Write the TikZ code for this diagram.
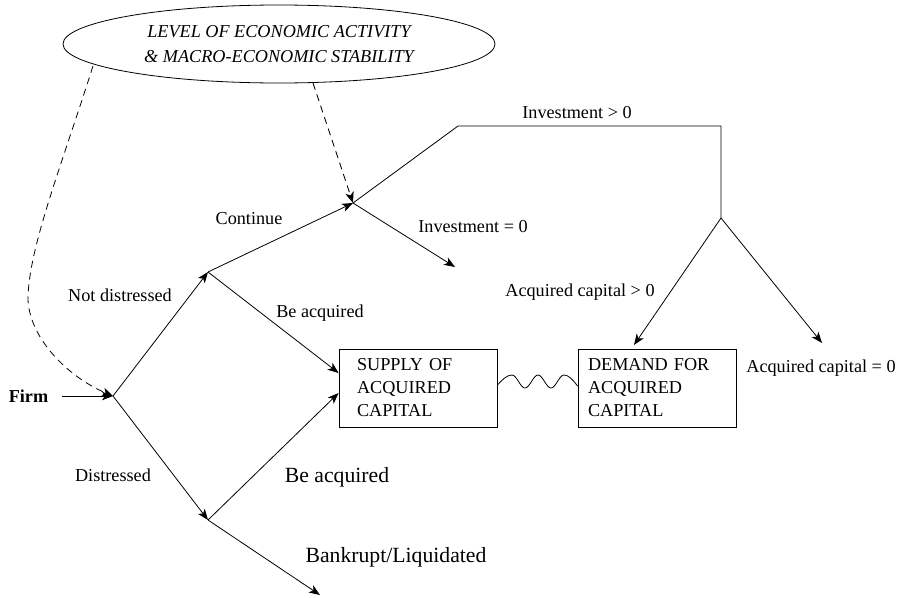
\documentclass[tikz,border=0pt]{standalone}
\usepackage{fontspec}
\setmainfont{Liberation Serif}
\usetikzlibrary{arrows.meta,shapes.geometric,calc}
\begin{document}
\begin{tikzpicture}[x=1pt,y=-1pt,
  every node/.style={font=\fontsize{18.2}{23}\selectfont, inner sep=0pt},
  line/.style={line width=0.8pt},
  tipa/.style={-{Stealth[length=11pt,width=8.5pt,inset=3pt]}},
  arr/.style={line, tipa},
  dashline/.style={line, dash pattern=on 7pt off 5pt},
  lab/.style={anchor=base},
  biglab/.style={anchor=base, font=\fontsize{21.7}{26}\selectfont},
  capbox/.style={draw, line, rectangle, align=left, minimum height=78pt, inner ysep=0pt}
]
\useasboundingbox (0,0) rectangle (899,597);

% ellipse
\node[draw, line, ellipse, minimum width=432pt, minimum height=78pt, align=center,
      font=\itshape\fontsize{18.2}{25}\selectfont] (ell) at (279,44)
  {LEVEL OF ECONOMIC ACTIVITY\\ \& MACRO-ECONOMIC STABILITY};

% junctions
\coordinate (F) at (113,396);
\coordinate (ND) at (208,272);
\coordinate (D) at (208,520);
\coordinate (C) at (353,203);
\coordinate (K) at (458,126);
\coordinate (Jt) at (721,126);
\coordinate (J) at (721,218);
\coordinate (I0) at (455,267);
\coordinate (BL) at (320,595);
\coordinate (A1) at (634,345);
\coordinate (A0) at (822,343);
\coordinate (e1) at (93,66);
\coordinate (e2) at (313,83);

% boxes
\node[capbox, inner xsep=18pt, text width=122pt] (sup) at (418,388)
  {SUPPLY OF\\ACQUIRED\\CAPITAL};
\node[capbox, inner xsep=10pt, text width=138pt] (dem) at (657,388)
  {DEMAND FOR\\ACQUIRED\\CAPITAL};

% firm
\node[font=\bfseries\fontsize{18.2}{23}\selectfont] (firm) at (28.5,396) {Firm};
\draw[arr] ($(firm.east)+(14,0)$) -- (F);

% tree
\draw[arr] (F) -- (ND);
\draw[arr] (F) -- (D);
\draw[arr] (ND) -- (C);
\draw[line] (C) -- (K) -- (Jt) -- (J);
\draw[arr] (C) -- (I0);
\draw[arr] (ND) -- ($(sup.west)+(0,-15)$);
\draw[arr] (D) -- ($(sup.west)+(0,5)$);
\draw[arr] (D) -- (BL);
\draw[arr] (J) -- (A1);
\draw[arr] (J) -- (A0);

% wavy link between supply and demand
\draw[line] ($(sup.east)+(0,-3)$) sin (512,375) cos (518.5,381.5) sin (525,388)
  cos (531.5,381.5) sin (538,375) cos (544.5,381.5) sin (551,388)
  cos (557.5,381.5) sin (564,375) cos ($(dem.west)+(0,-2)$);

% dashed influences
\draw[dashline, tipa] (e1) .. controls (60,170) and (28,250) .. (28,300)
  .. controls (30,340) and (70,378) .. (F);
\draw[dashline, tipa] (e2) -- (C);

% labels
\node[lab] (lnd) at (120,301) {Not distressed};
\node[lab] (ld) at (113,481) {Distressed};
\node[lab] (lc) at (249,224) {Continue};
\node[lab] (lba) at (320,317) {Be acquired};
\node[lab] (lip) at (577,118) {Investment > 0};
\node[lab] (liz) at (473,232) {Investment = 0};
\node[lab] (lap) at (580,296) {Acquired capital > 0};
\node[lab] (laz) at (821,372) {Acquired capital = 0};
\node[biglab] (lbb) at (337,482) {Be acquired};
\node[biglab] (lbl) at (396,562) {Bankrupt/Liquidated};
\end{tikzpicture}
\end{document}
